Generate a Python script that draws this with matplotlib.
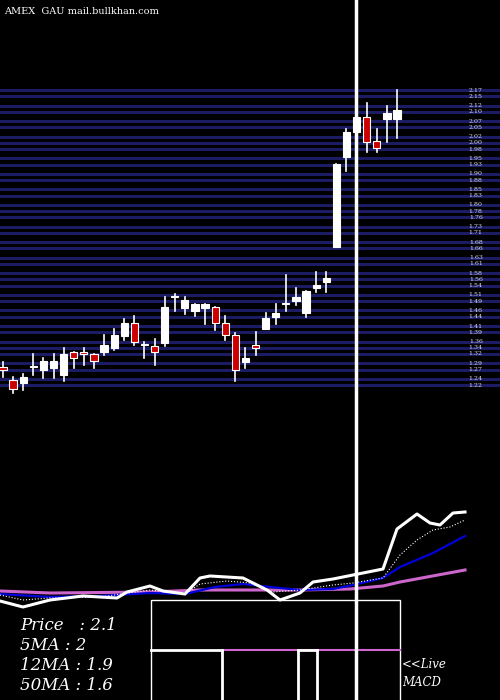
import matplotlib
matplotlib.use("Agg")
import matplotlib.pyplot as plt
from matplotlib.patches import Rectangle

opens  = [1.278,1.236,1.226,1.278,1.268,1.275,1.252,1.326,1.326,1.320,1.326,1.339,1.378,1.420,1.350,1.346,1.355,1.503,1.468,1.458,
          1.468,1.471,1.420,1.381,1.294,1.349,1.400,1.439,1.481,1.490,1.452,1.532,1.552,1.664,1.954,2.035,2.083,2.006,2.077,2.077]
highs  = [1.294,1.246,1.255,1.320,1.307,1.320,1.339,1.326,1.339,1.320,1.381,1.400,1.433,1.442,1.359,1.368,1.503,1.513,1.503,1.481,
          1.481,1.471,1.442,1.388,1.339,1.391,1.452,1.481,1.574,1.532,1.523,1.584,1.584,1.932,2.044,2.090,2.128,2.044,2.118,2.170]
lows   = [1.246,1.194,1.204,1.252,1.243,1.243,1.233,1.275,1.284,1.275,1.317,1.333,1.365,1.349,1.307,1.284,1.346,1.458,1.449,1.442,
          1.417,1.397,1.365,1.233,1.275,1.317,1.400,1.417,1.458,1.478,1.439,1.519,1.519,1.664,1.909,2.010,1.970,1.970,2.003,2.016]
closes = [1.268,1.207,1.246,1.278,1.297,1.297,1.320,1.307,1.320,1.297,1.349,1.381,1.420,1.359,1.349,1.326,1.471,1.503,1.494,1.481,
          1.481,1.420,1.381,1.268,1.307,1.339,1.436,1.452,1.481,1.503,1.523,1.542,1.564,1.932,2.035,2.083,2.003,1.983,2.096,2.106]

grid_levels = [2.17,2.15,2.12,2.10,2.07,2.05,2.02,2.00,1.98,1.95,1.93,1.90,1.88,1.85,1.83,1.80,1.78,1.76,1.73,1.71,
               1.68,1.66,1.63,1.61,1.58,1.56,1.54,1.51,1.49,1.46,1.44,1.41,1.39,1.36,1.34,1.32,1.29,1.27,1.24,1.22]

px_x = [0,23,50,83,117,127,150,163,185,200,210,243,267,280,300,313,333,353,383,397,417,430,440,453,465]
px_y = [601,607,600,596,598,592,586,591,594,578,576,578,590,600,593,582,579,575,569,529,514,523,525,513,512]
ma5_x = [0,23,50,100,150,185,200,227,250,273,300,333,353,383,400,417,433,450,465]
ma5_y = [595,600,598,597,590,594,584,581,583,592,590,585,583,578,555,540,530,527,520]
ma12_x = [0,50,100,150,185,215,243,280,300,333,353,383,400,433,465]
ma12_y = [594,597,596,593,594,587,584,588,590,589,585,578,567,553,536]
ma50_x = [0,50,150,200,300,350,383,400,465]
ma50_y = [591,593,592,590,590,589,586,582,570]

fig = plt.figure(figsize=(5, 7), dpi=100, facecolor="black")

ax = fig.add_axes([0, 210/700, 1, 490/700])
ax.set_facecolor("black")
slope = 0.00322
ax.set_ylim(2.17 - 400*slope, 2.17 + 90*slope)
ax.set_xlim(-0.3, 49.2)
ax.axis("off")
for g in grid_levels:
    ax.axhline(g, color="#1c1c64", lw=2.2, zorder=1)
    ax.text(46.8, g, f"{g:.2f}", color="#dddddd", fontsize=4.5, family="DejaVu Serif",
            ha="center", va="center", zorder=3)
for i, (o, h, l, c) in enumerate(zip(opens, highs, lows, closes)):
    ax.plot([i, i], [l, h], color="white", lw=1.2, zorder=2)
    col = "white" if c >= o else "#cc0000"
    lo, hi = min(o, c), max(o, c)
    ax.add_patch(Rectangle((i - 0.36, lo), 0.72, max(hi - lo, 0.003), facecolor=col,
                           edgecolor="white", lw=0.8, zorder=3))

bx = fig.add_axes([0, 0, 1, 210/700])
bx.set_facecolor("black")
bx.set_xlim(0, 500); bx.set_ylim(700, 490); bx.axis("off")
bx.plot(ma50_x, ma50_y, color="#cc66cc", lw=2.2)
bx.plot(ma12_x, ma12_y, color="#0000dd", lw=1.6)
bx.plot(ma5_x, ma5_y, color="white", lw=0.8, ls=":")
bx.plot(px_x, px_y, color="white", lw=2.2)
bx.add_patch(Rectangle((151, 600), 249, 105, facecolor="none", edgecolor="white", lw=1))
bx.plot([151, 222], [650, 650], color="white", lw=2)
bx.plot([222, 400], [650, 650], color="#cc66cc", lw=1.5)
bx.plot([298, 317], [650, 650], color="white", lw=2)
for xv in [222, 298, 317]:
    bx.plot([xv, xv], [650, 700], color="white", lw=2)
labels = ["Price   : 2.1", "5MA : 2", "12MA : 1.9", "50MA : 1.6"]
for k, t in enumerate(labels):
    bx.text(20, 625 + 20*k, t, color="white", fontsize=12, family="DejaVu Serif",
            style="italic", va="center")
bx.text(402, 665, "<<Live", color="white", fontsize=8.5, family="DejaVu Serif", style="italic", va="center")
bx.text(402, 682, "MACD", color="white", fontsize=8.5, family="DejaVu Serif", style="italic", va="center")

ov = fig.add_axes([0, 0, 1, 1]); ov.set_xlim(0, 500); ov.set_ylim(700, 0); ov.axis("off")
ov.patch.set_alpha(0)
ov.plot([356, 356], [0, 700], color="white", lw=2.5)
ov.text(4, 12, "AMEX  GAU mail.bullkhan.com", color="white", fontsize=7, family="DejaVu Serif", va="center")

fig.savefig("out.png", dpi=100, facecolor="black")
